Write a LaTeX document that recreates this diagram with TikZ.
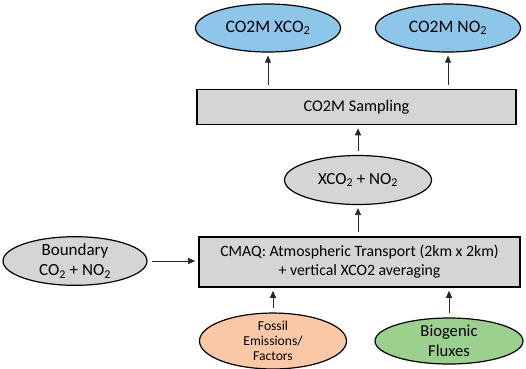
\documentclass[tikz,border=0pt]{standalone}
\usepackage{fontspec}
\setmainfont{Carlito}
\usepackage{xcolor}
\usetikzlibrary{positioning, shapes.geometric, arrows.meta}

\definecolor{satblue}{HTML}{8EC6EA}
\definecolor{modelgray}{HTML}{D6D4D4}
\definecolor{fossilpeach}{HTML}{FAC8A6}
\definecolor{biogreen}{HTML}{9BD08F}

\newcommand{\subtwo}{\textsubscript{2}}

\begin{document}
\begin{tikzpicture}[
        x=1pt, y=-1pt,
        base/.style={draw=black, line width=1.2pt, align=center, inner sep=0pt, font=\fontsize{17}{20}\selectfont},
        oval/.style={base, ellipse, minimum width=145pt, minimum height=48pt, fill=modelgray},
        sat_oval/.style={oval, fill=satblue, font=\fontsize{17.5}{20}\selectfont},
        fossil_oval/.style={oval, fill=fossilpeach, font=\fontsize{13.6}{15}\selectfont},
        bio_oval/.style={oval, fill=biogreen, font=\fontsize{16.6}{20}\selectfont},
        box/.style={base, rectangle, fill=modelgray, line width=1.6pt, font=\fontsize{15.8}{19}\selectfont},
        arrow/.style={-{Triangle[length=7pt, width=6pt]}, line width=0.8pt, draw=black!85, shorten <=4pt, shorten >=3pt}
    ]
        \useasboundingbox (0,0) rectangle (526,368);

        % Nodes
        \node[sat_oval] (sat_xco2) at (268,28) {CO2M XCO\subtwo};
        \node[sat_oval] (sat_no2) at (448,28) {CO2M NO\subtwo};
        \node[box, minimum width=319pt, minimum height=35pt, font=\fontsize{16.3}{19}\selectfont] (sampling) at (356.5,107) {CO2M Sampling};
        \node[oval, minimum width=147pt, minimum height=49pt] (fields) at (358,180) {XCO\subtwo{} + NO\subtwo};
        \node[box, minimum width=321pt, minimum height=50pt] (cmaq) at (359.5,262) {CMAQ: Atmospheric Transport (2km x 2km)\\+ vertical XCO2 averaging};
        \node[oval, minimum width=144pt] (boundary) at (75,261) {Boundary\\CO\subtwo{} + NO\subtwo};
        \node[fossil_oval, minimum width=147pt, minimum height=46pt] (fossil) at (273,341) {Fossil\\Emissions/\\Factors};
        \node[bio_oval, minimum width=148pt, minimum height=46pt] (biogenic) at (449,341) {Biogenic\\Fluxes};

        % Links
        \draw[arrow] (sampling.north -| sat_xco2) -- (sat_xco2.south);
        \draw[arrow] (sampling.north -| sat_no2) -- (sat_no2.south);
        \draw[arrow] (fields.north) -- (fields.north |- sampling.south);
        \draw[arrow] (cmaq.north -| fields) -- (fields.south);
        \draw[arrow] (boundary.east) -- (boundary.east -| cmaq.west);
        \draw[arrow] (fossil.north) -- (fossil.north |- cmaq.south);
        \draw[arrow] (biogenic.north) -- (biogenic.north |- cmaq.south);

    \end{tikzpicture}
\end{document}
